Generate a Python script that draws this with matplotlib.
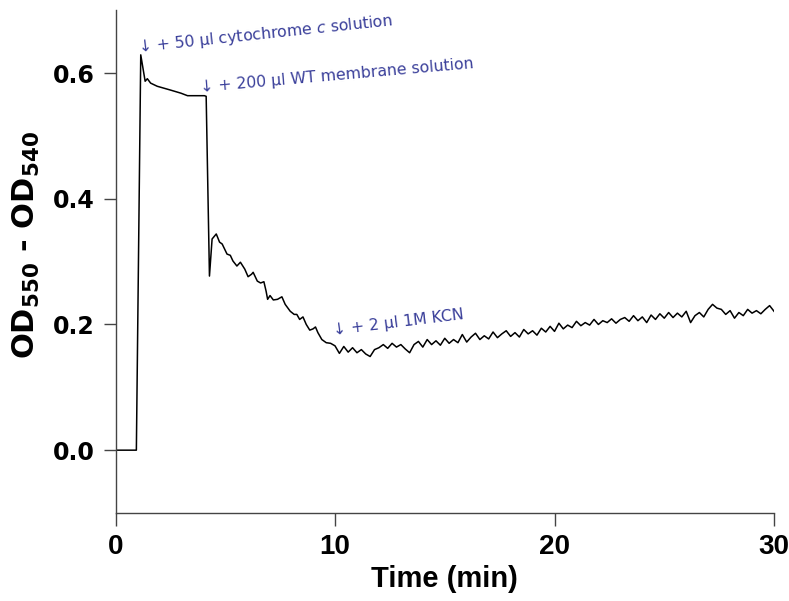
import numpy as np
import matplotlib
matplotlib.use("Agg")
import matplotlib.pyplot as plt

plt.rcParams['font.family'] = ['Liberation Sans', 'DejaVu Sans']
plt.rcParams['mathtext.fontset'] = 'custom'
plt.rcParams['mathtext.bf'] = 'DejaVu Sans:bold'
plt.rcParams['mathtext.rm'] = 'DejaVu Sans:bold'
plt.rcParams['mathtext.it'] = 'DejaVu Sans:italic'

# baseline, cytochrome c addition and plateau
t_early = [0.0, 0.95, 1.15, 1.35, 1.45, 1.6, 1.9, 2.5, 2.98, 3.28, 4.05, 4.13]
od_early = [0.0, 0.0, 0.629, 0.587, 0.591, 0.584, 0.579, 0.573, 0.568, 0.564, 0.564, 0.563]

# membrane addition and decay
t_decay = [4.28, 4.40, 4.59, 4.74, 4.86, 5.08, 5.23, 5.35, 5.53, 5.69, 5.89, 6.04,
           6.20, 6.27, 6.46, 6.61, 6.76, 6.86, 6.93, 7.04, 7.19, 7.38, 7.58, 7.73,
           7.96, 8.14, 8.26, 8.39, 8.54, 8.69, 8.85, 9.00, 9.11, 9.22]
od_decay = [0.277, 0.336, 0.344, 0.331, 0.328, 0.312, 0.310, 0.301, 0.293, 0.299, 0.288, 0.276,
            0.280, 0.283, 0.269, 0.266, 0.268, 0.253, 0.240, 0.246, 0.239, 0.240, 0.244, 0.232,
            0.221, 0.216, 0.216, 0.208, 0.212, 0.200, 0.191, 0.193, 0.196, 0.187]

# after KCN, slow rise
t_tail = [9.4, 9.6, 9.8, 10.0, 10.2, 10.4, 10.6, 10.8, 11.0, 11.2,
          11.4, 11.6, 11.8, 12.0, 12.2, 12.4, 12.6, 12.8, 13.0, 13.2,
          13.4, 13.6, 13.8, 14.0, 14.2, 14.4, 14.6, 14.8, 15.0, 15.2,
          15.4, 15.6, 15.8, 16.0, 16.2, 16.4, 16.6, 16.8, 17.0, 17.2,
          17.4, 17.6, 17.8, 18.0, 18.2, 18.4, 18.6, 18.8, 19.0, 19.2,
          19.4, 19.6, 19.8, 20.0, 20.2, 20.4, 20.6, 20.8, 21.0, 21.2,
          21.4, 21.6, 21.8, 22.0, 22.2, 22.4, 22.6, 22.8, 23.0, 23.2,
          23.4, 23.6, 23.8, 24.0, 24.2, 24.4, 24.6, 24.8, 25.0, 25.2,
          25.4, 25.6, 25.8, 26.0, 26.2, 26.4, 26.6, 26.8, 27.0, 27.2,
          27.4, 27.6, 27.8, 28.0, 28.2, 28.4, 28.6, 28.8, 29.0, 29.2,
          29.4, 29.6, 29.8, 30.0]
od_tail = [0.176, 0.171, 0.170, 0.166, 0.154, 0.165, 0.156, 0.163, 0.155, 0.160,
           0.153, 0.149, 0.160, 0.163, 0.168, 0.162, 0.170, 0.164, 0.168, 0.161,
           0.155, 0.168, 0.173, 0.164, 0.176, 0.168, 0.174, 0.167, 0.178, 0.170,
           0.176, 0.171, 0.184, 0.172, 0.180, 0.186, 0.176, 0.182, 0.177, 0.188,
           0.179, 0.185, 0.190, 0.181, 0.187, 0.180, 0.192, 0.185, 0.190, 0.183,
           0.194, 0.188, 0.197, 0.189, 0.202, 0.193, 0.199, 0.195, 0.205, 0.198,
           0.203, 0.199, 0.208, 0.200, 0.206, 0.203, 0.209, 0.202, 0.208, 0.211,
           0.205, 0.214, 0.206, 0.212, 0.203, 0.215, 0.208, 0.217, 0.210, 0.219,
           0.211, 0.218, 0.212, 0.221, 0.203, 0.214, 0.219, 0.212, 0.224, 0.232,
           0.226, 0.224, 0.216, 0.222, 0.210, 0.219, 0.214, 0.224, 0.218, 0.222,
           0.217, 0.224, 0.230, 0.221]

x_ticks = [0, 10, 20, 30]
y_ticks = [0.0, 0.2, 0.4, 0.6]

# annotations: (text, time, od, rotation)
notes = [
    ('↓ + 50 µl cytochrome $c$ solution', 1.03, 0.634, 6),
    ('↓ + 200 µl WT membrane solution', 3.9, 0.570, 5),
    ('↓ + 2 µl 1M KCN', 9.95, 0.183, 7),
]

time = np.array(t_early + t_decay + t_tail)
od = np.array(od_early + od_decay + od_tail)

fig = plt.figure(figsize=(7.89, 6.01), dpi=100)
ax = fig.add_axes([0.1464, 0.1464, 0.8346, 0.8366])
ax.plot(time, od, color='black', lw=1.1)

ax.set_xlim(0, 30)
ax.set_ylim(-0.1, 0.7)
ax.set_xticks(x_ticks)
ax.set_yticks(y_ticks)
ax.set_yticklabels(['%.1f' % v for v in y_ticks])
for s in ['top', 'right']:
    ax.spines[s].set_visible(False)
for s in ['left', 'bottom']:
    ax.spines[s].set_color('#444444')
    ax.spines[s].set_linewidth(1.0)
ax.tick_params(length=9, width=1.0, color='#444444', pad=6)
ax.tick_params(axis='x', labelsize=20)
ax.tick_params(axis='y', labelsize=17)
for lab in ax.get_xticklabels():
    lab.set_fontweight('bold')
for lab in ax.get_yticklabels():
    lab.set_fontweight('bold')
    lab.set_family(['DejaVu Sans'])

ax.set_xlabel('Time (min)', fontsize=21, fontweight='bold')
ax.set_ylabel('OD$_{550}$ - OD$_{540}$', fontsize=22, fontweight='bold',
              family=['DejaVu Sans'])
ax.yaxis.set_label_coords(-0.112, 0.533)
ax.xaxis.set_label_coords(0.5, -0.103)

for txt, tx, ty, rot in notes:
    ax.text(tx, ty, txt, color='#3a3f9a', fontsize=11.3, family=['DejaVu Sans'],
            rotation=rot, rotation_mode='anchor', ha='left', va='baseline')

fig.savefig('out.png', dpi=100)
